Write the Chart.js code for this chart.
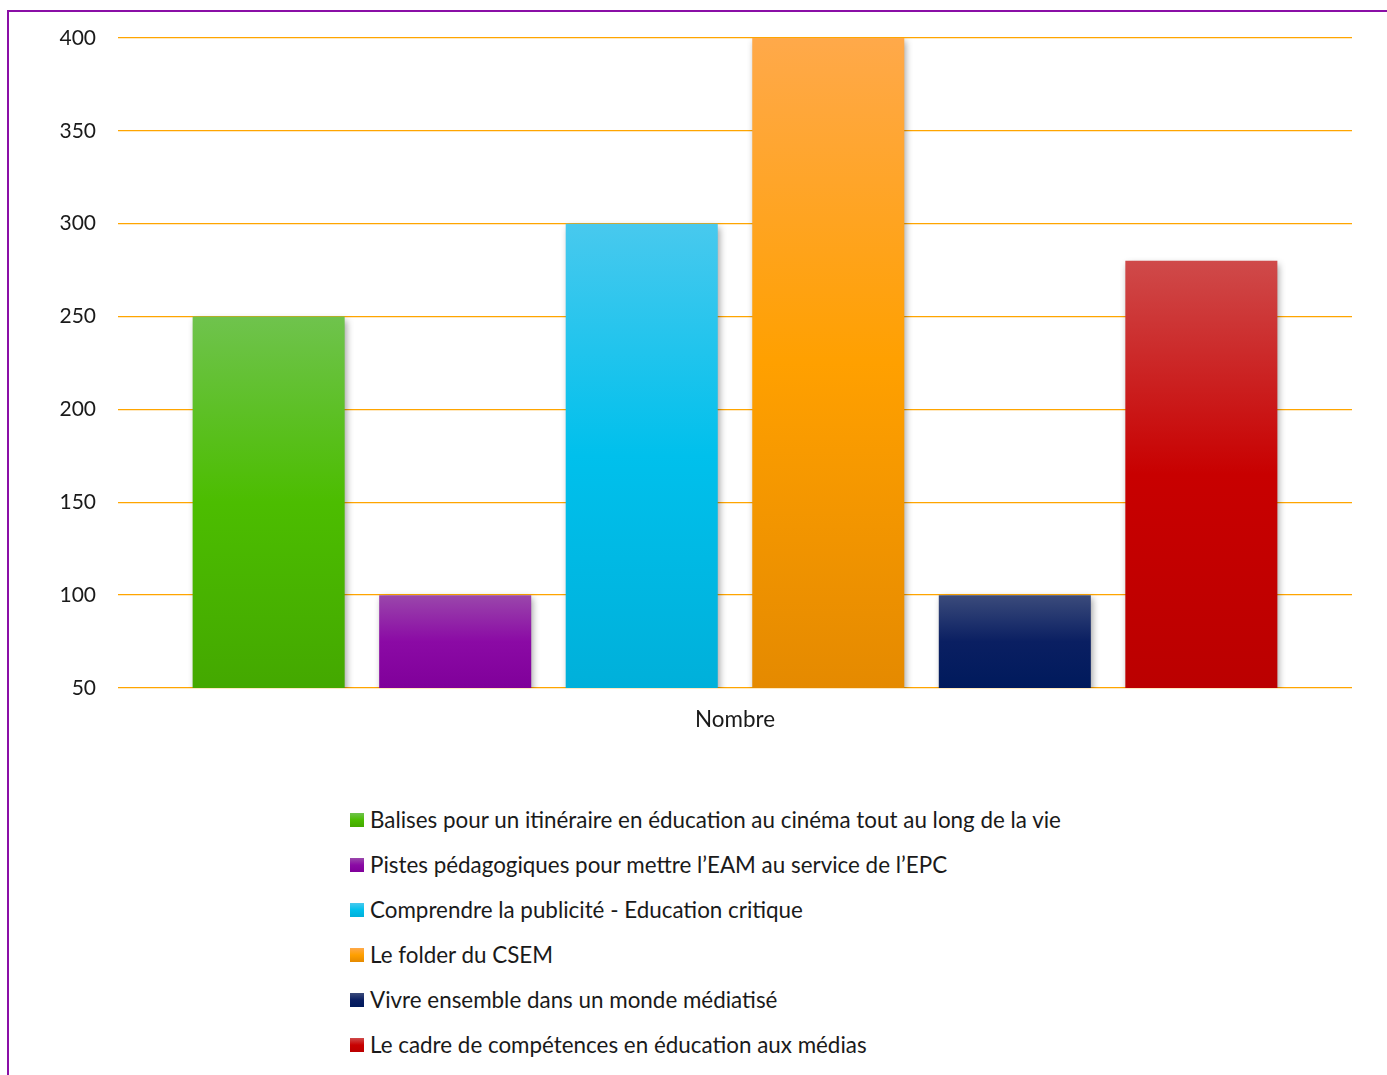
<!DOCTYPE html>
<html>
<head>
<meta charset="utf-8">
<script src="https://cdn.jsdelivr.net/npm/chart.js@4.4.1/dist/chart.umd.min.js"></script>
<style>
  html, body { margin: 0; padding: 0; background: #fff; overflow: hidden; }
  body { width: 1387px; height: 1075px; position: relative; font-family: Lato, sans-serif; }
  #frame { position: absolute; left: 7px; top: 10px; width: 1400px; height: 1100px; border: 2px solid #8A0FA6; box-sizing: border-box; }
  #wrap { position: absolute; left: 0; top: 0; width: 1387px; height: 760px; }
  #legend { position: absolute; left: 350px; top: 797px; margin: 0; padding: 0; list-style: none; }
  #legend li { height: 45px; display: flex; align-items: center; font-size: 22.4px; color: #1a1a1a; }
  #legend span.box { width: 14px; height: 14px; margin-right: 6px; display: inline-block; }
</style>
</head>
<body>
<div id="frame"></div>
<div id="wrap"><canvas id="chart"></canvas></div>
<ul id="legend"></ul>
<script>
// données
const categories = ['Nombre'];
const seriesNames = [
  'Balises pour un itinéraire en éducation au cinéma tout au long de la vie',
  'Pistes pédagogiques pour mettre l\u2019EAM au service de l\u2019EPC',
  'Comprendre la publicité - Education critique',
  'Le folder du CSEM',
  'Vivre ensemble dans un monde médiatisé',
  'Le cadre de compétences en éducation aux médias'
];
const seriesValues = [250, 100, 300, 400, 100, 280];
const yTicks = [50, 100, 150, 200, 250, 300, 350, 400];

// couleurs : haut / milieu / bas du dégradé
const topColors = ['#6fc34d', '#9a47ab', '#48c9ee', '#ffa94a', '#3b4b7b', '#cf4a4a'];
const midColors = ['#4cbd00', '#8b0aa5', '#00c0ec', '#ffa000', '#0a1f62', '#c80000'];
const botColors = ['#44a800', '#80009a', '#00b0da', '#e58a00', '#001a5c', '#bb0000'];
const gridOrange = '#FFA500';

function barFill(i) {
  return function (ctx) {
    const c = ctx.chart;
    if (!c.chartArea || ctx.type !== 'data') return midColors[i];
    const y = c.scales.y;
    const top = y.getPixelForValue(ctx.parsed.y);
    const bot = y.getPixelForValue(y.min);
    if (!isFinite(top) || !isFinite(bot) || bot - top < 1) return midColors[i];
    const g = c.ctx.createLinearGradient(0, top, 0, bot);
    g.addColorStop(0, topColors[i]);
    g.addColorStop(0.5, midColors[i]);
    g.addColorStop(1, botColors[i]);
    return g;
  };
}

// ombre portée des barres
const shadowPlugin = {
  id: 'barShadow',
  beforeDatasetsDraw(chart) {
    const ctx = chart.ctx;
    ctx.save();
    ctx.shadowColor = 'rgba(0,0,0,0.38)';
    ctx.shadowBlur = 7;
    ctx.shadowOffsetX = 2;
    ctx.shadowOffsetY = 3;
  },
  afterDatasetsDraw(chart) {
    chart.ctx.restore();
  }
};

Chart.defaults.font.family = 'Lato, sans-serif';
Chart.defaults.color = '#1a1a1a';

const chart = new Chart(document.getElementById('chart'), {
  type: 'bar',
  data: {
    labels: categories,
    datasets: seriesNames.map((name, i) => ({
      label: name,
      data: [seriesValues[i]],
      backgroundColor: barFill(i),
      borderWidth: 0,
      categoryPercentage: 0.907,
      barPercentage: 0.815
    }))
  },
  options: {
    responsive: true,
    maintainAspectRatio: false,
    animation: false,
    layout: { padding: { top: 38, right: 35, left: 0, bottom: 0 } },
    plugins: {
      legend: { display: false },
      tooltip: { enabled: false }
    },
    scales: {
      x: {
        grid: { display: false, drawTicks: false },
        border: { display: false },
        ticks: { font: { size: 22.4 }, padding: 18 },
        afterFit(scale) { scale.height = 72; }
      },
      y: {
        min: yTicks[0],
        max: yTicks[yTicks.length - 1],
        afterBuildTicks(scale) { scale.ticks = yTicks.map(v => ({ value: v })); },
        grid: { color: gridOrange, lineWidth: 1.3, drawTicks: false },
        border: { display: false },
        ticks: { font: { size: 21 }, padding: 22 },
        afterFit(scale) { scale.width = 118; }
      }
    }
  },
  plugins: [shadowPlugin]
});

// légende verticale en bas
const legendEl = document.getElementById('legend');
chart.data.datasets.forEach((ds, i) => {
  const li = document.createElement('li');
  const box = document.createElement('span');
  box.className = 'box';
  box.style.background = 'linear-gradient(' + topColors[i] + ',' + midColors[i] + ' 50%,' + botColors[i] + ')';
  li.appendChild(box);
  li.appendChild(document.createTextNode(ds.label));
  legendEl.appendChild(li);
});
</script>
</body>
</html>
